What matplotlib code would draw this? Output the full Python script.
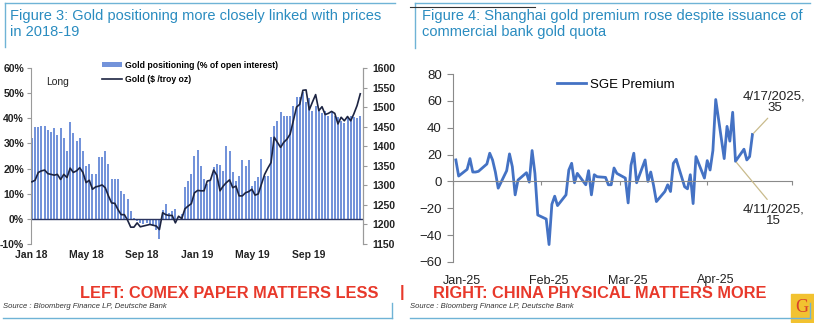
import numpy as np
import pandas as pd
import matplotlib
matplotlib.use("Agg")
import matplotlib.pyplot as plt
from matplotlib.lines import Line2D
from matplotlib.patches import Rectangle

W, H = 814, 323

# ---- left chart data: weekly COMEX gold positioning and gold price
positioning = [32, 36.5, 36.5, 37, 37, 35.5, 34.5, 36, 33.5, 36, 32, 27, 38.5, 34, 31, 32, 27,
               21, 22, 18, 18, 24.5, 24.5, 27, 22, 16, 16, 16, 11, 10, 8, 3, 0.5, -1, -1.5,
               -2, -1.5, -2, -3, -4.5, -8, 3.5, 6, 2.5, 3, 4, -0.5, 2, 12.5, 15, 18, 25,
               27.5, 21, 16, 14, 15, 20.5, 22, 21.5, 19, 29, 27, 18.5, 15, 17, 23.5, 21, 23.5,
               13, 15, 16.5, 24, 17, 17, 32.5, 37, 39, 42.5, 41, 41, 41, 45, 48.5, 48.5, 50.5,
               46.5, 48, 43, 45, 43.5, 42, 43, 41, 43, 41, 40.5, 39, 38, 40, 41, 40.5, 40, 41]
gold_price = [1309, 1313, 1333, 1337, 1339, 1330, 1328, 1326, 1328, 1315,
              1328, 1320, 1344, 1333, 1337, 1345, 1333, 1307, 1313, 1290,
              1296, 1298, 1301, 1294, 1273, 1255, 1254, 1238, 1225, 1225,
              1211, 1193, 1193, 1204, 1194, 1196, 1198, 1200, 1198, 1196,
              1187, 1230, 1225, 1223, 1223, 1204, 1221, 1215, 1240, 1247,
              1253, 1281, 1287, 1286, 1286, 1311, 1313, 1339, 1326, 1286,
              1298, 1307, 1314, 1294, 1298, 1273, 1273, 1281, 1284, 1290,
              1275, 1278, 1303, 1328, 1344, 1358, 1423, 1410, 1397, 1410,
              1418, 1431, 1465, 1500, 1507, 1543, 1544, 1493, 1513, 1532,
              1491, 1501, 1481, 1484, 1489, 1484, 1457, 1474, 1465, 1476,
              1465, 1483, 1504, 1534]
weeks = pd.date_range("2018-01-02", periods=len(positioning), freq="7D")
left_ticks = ["2018-01-01", "2018-05-01", "2018-09-01", "2019-01-01", "2019-05-01", "2019-09-01"]
left_ticklabels = ["Jan 18", "May 18", "Sep 18", "Jan 19", "May 19", "Sep 19"]

# ---- right chart data: daily SGE premium
sge_premium = [16, 4, 9, 17, 7, 7, 7.5, 13, 21, 16, 7, -5, 8, 20.5, 11, -10, 1, 6.5, -0.5, 23,
               6, -25, -28, -47, -17, -11, -18, -10, 8.5, 13.5, -1, 6, -2.5, 8, -10, 5, 3.5, 3,
               -2.5, -2.5, 10, 6, 2.5, -16, 12, 21, -1, 16, 0, 7, -3, -15, -7.5, -2.5, -7.5,
               13.5, 16.5, -4, -5.5, 5, -16.5, 18.5, 2.5, 15.5, 8.5, 23, 61, 17, 41, 30, 51.5,
               15, 24, 16, 18.5, 35]
days = pd.bdate_range("2025-01-02", periods=len(sge_premium))
month_ticks = pd.date_range("2025-01-01", "2025-05-01", freq="MS")
month_labels = ["Jan-25", "Feb-25", "Mar-25", "Apr-25"]

TEAL = "#2a8cc0"
SANS = ["Liberation Sans", "DejaVu Sans"]


def box(x0, y0, x1, y1):
    # pixel box (top-left origin) -> figure fraction rect
    return [x0 / W, 1 - y1 / H, (x1 - x0) / W, (y1 - y0) / H]


def fx(x):
    return x / W


def fy(y):
    return 1 - y / H


fig = plt.figure(figsize=(W / 100, H / 100), dpi=100)

# ================= left chart =================
ax = fig.add_axes(box(31, 68, 363, 244))
bars = ax.bar(weeks, positioning, width=4.4, color="#7393da", label="Gold positioning (% of open interest)")
ax.axhline(0, color="#2b3560", lw=1.0)
ax.set_ylim(-10, 60)
ax.set_yticks(np.arange(-10, 61, 10))
ax.set_yticklabels([f"{v}%" for v in range(-10, 61, 10)])
ax.set_xlim(pd.Timestamp("2017-12-31"), pd.Timestamp("2019-12-30"))
ax.set_xticks(pd.to_datetime(left_ticks))
ax.set_xticklabels(left_ticklabels)
for s in ["top", "bottom"]:
    ax.spines[s].set_visible(False)
ax.spines["left"].set_color("#9a9a9a")
ax.spines["right"].set_color("#9a9a9a")
ax.tick_params(axis="y", length=3, color="#9a9a9a", pad=2)
ax.tick_params(axis="x", length=0, pad=4)
for lab in ax.get_yticklabels() + ax.get_xticklabels():
    lab.set_family(SANS)
    lab.set_fontsize(7.5)
    lab.set_fontweight("bold")
    lab.set_color("#222222")

ax2 = ax.twinx()
line, = ax2.plot(weeks, gold_price, color="#1c2442", lw=1.2, label="Gold ($ /troy oz)")
ax2.set_ylim(1150, 1600)
ax2.set_yticks(np.arange(1150, 1601, 50))
for s in ["top", "bottom", "left"]:
    ax2.spines[s].set_visible(False)
ax2.spines["right"].set_color("#9a9a9a")
ax2.tick_params(axis="y", length=3, color="#9a9a9a", pad=4)
for lab in ax2.get_yticklabels():
    lab.set_family(SANS)
    lab.set_fontsize(7.5)
    lab.set_fontweight("bold")
    lab.set_color("#222222")

ax.legend(handles=[bars, line], loc="upper left", bbox_to_anchor=(0.19, 1.085), frameon=False,
          handlelength=2.4, handleheight=0.6, handletextpad=0.25, labelspacing=0.6,
          prop={"family": SANS, "size": 6.2, "weight": "bold"})
ax.text(0.045, 0.95, "Long", transform=ax.transAxes, fontsize=7.5, family=SANS, va="top", color="#222222")

# ================= right chart =================
bx = fig.add_axes(box(453, 74, 792, 262))
bx.plot(days, sge_premium, color="#4472c4", lw=2.0, label="SGE Premium")
bx.set_ylim(-60, 80)
bx.set_yticks(np.arange(-60, 81, 20))
bx.set_xlim(month_ticks[0], month_ticks[-1])
bx.set_xticks(month_ticks)
bx.set_xticklabels([])
for s in ["top", "right"]:
    bx.spines[s].set_visible(False)
bx.spines["bottom"].set_position(("data", 0))
bx.spines["bottom"].set_color("#8a8a8a")
bx.spines["left"].set_color("#8a8a8a")
bx.tick_params(axis="x", length=3, color="#8a8a8a")
bx.tick_params(axis="y", length=4, color="#8a8a8a", pad=4, labelsize=9.5)
for lab in bx.get_yticklabels():
    lab.set_family(SANS)
    lab.set_color("#222222")

# month labels sit below the -60 line
sec = bx.secondary_xaxis(0)
sec.set_xticks(month_ticks[:-1] + pd.Timedelta(days=3))
sec.set_xticklabels(month_labels, family=SANS, fontsize=9, color="#222222")
sec.tick_params(length=0, pad=9)
sec.spines["bottom"].set_visible(False)

bx.legend(loc="upper center", bbox_to_anchor=(0.48, 1.04), frameon=False, handlelength=2.2,
          handletextpad=0.3, prop={"family": SANS, "size": 9.5})

tan = "#c9bb8c"
i17 = len(sge_premium) - 1
i11 = len(sge_premium) - 5
bx.annotate(f"{days[i17].month}/{days[i17].day}/{days[i17].year},\n{sge_premium[i17]:g}",
            xy=(days[i17], sge_premium[i17]), xytext=(22, 20), textcoords="offset pixels",
            ha="center", va="bottom", fontsize=9.5, family=SANS, color="#222222", linespacing=1.0,
            arrowprops=dict(arrowstyle="-", color=tan, lw=0.9, relpos=(0.45, 0), shrinkA=1, shrinkB=1))
bx.annotate(f"{days[i11].month}/{days[i11].day}/{days[i11].year},\n{sge_premium[i11]:g}",
            xy=(days[i11], sge_premium[i11]), xytext=(38, -42), textcoords="offset pixels",
            ha="center", va="top", fontsize=9.5, family=SANS, color="#222222", linespacing=1.0,
            arrowprops=dict(arrowstyle="-", color=tan, lw=0.9, relpos=(0.45, 1), shrinkA=1, shrinkB=1))

# ================= titles, frames, captions =================
fig.text(fx(10), fy(9), "Figure 3: Gold positioning more closely linked with prices\nin 2018-19",
         ha="left", va="top", color=TEAL, fontsize=10.5, family=SANS, linespacing=1.15)
fig.text(fx(422), fy(9), "Figure 4: Shanghai gold premium rose despite issuance of\ncommercial bank gold quota",
         ha="left", va="top", color=TEAL, fontsize=10.5, family=SANS, linespacing=1.15)

frame = dict(color="#6fb3d6", lw=1.0, transform=fig.transFigure)
fig.add_artist(Line2D([fx(5), fx(395)], [fy(3), fy(3)], **frame))
fig.add_artist(Line2D([fx(5), fx(5)], [fy(3), fy(47)], **frame))
fig.add_artist(Line2D([fx(415), fx(810)], [fy(3), fy(3)], **frame))
fig.add_artist(Line2D([fx(415), fx(415)], [fy(3), fy(48)], **frame))
fig.add_artist(Line2D([fx(410), fx(535)], [fy(7), fy(7)], color="#333333", lw=0.8, transform=fig.transFigure))
fig.add_artist(Line2D([fx(3), fx(392)], [fy(318), fy(318)], **frame))
fig.add_artist(Line2D([fx(392), fx(392)], [fy(318), fy(303)], **frame))
fig.add_artist(Line2D([fx(410), fx(810)], [fy(318), fy(318)], **frame))
fig.add_artist(Line2D([fx(810), fx(810)], [fy(318), fy(303)], **frame))

fig.text(fx(3), fy(307), "Source : Bloomberg Finance LP, Deutsche Bank", fontsize=5.5, style="italic",
         family=SANS, color="#333333", va="center")
fig.text(fx(410), fy(307), "Source : Bloomberg Finance LP, Deutsche Bank", fontsize=5.5, style="italic",
         family=SANS, color="#333333", va="center")

RED = "#e8392b"
cap = dict(color=RED, fontsize=11.8, fontweight="bold", family=SANS, va="center")
fig.text(fx(80), fy(293), "LEFT: COMEX PAPER MATTERS LESS", ha="left", **cap)
fig.text(fx(402), fy(293), "|", ha="center", **cap)
fig.text(fx(433), fy(293), "RIGHT: CHINA PHYSICAL MATTERS MORE", ha="left", **cap)

# little G badge in the corner
fig.add_artist(Rectangle((fx(791), fy(322)), 23 / W, 28 / H, color="#f2c230", transform=fig.transFigure))
fig.text(fx(802), fy(308), "G", ha="center", va="center", color="#d9442a", fontsize=13,
         family=["Liberation Serif", "DejaVu Serif"])

fig.savefig("out.png", dpi=100)
